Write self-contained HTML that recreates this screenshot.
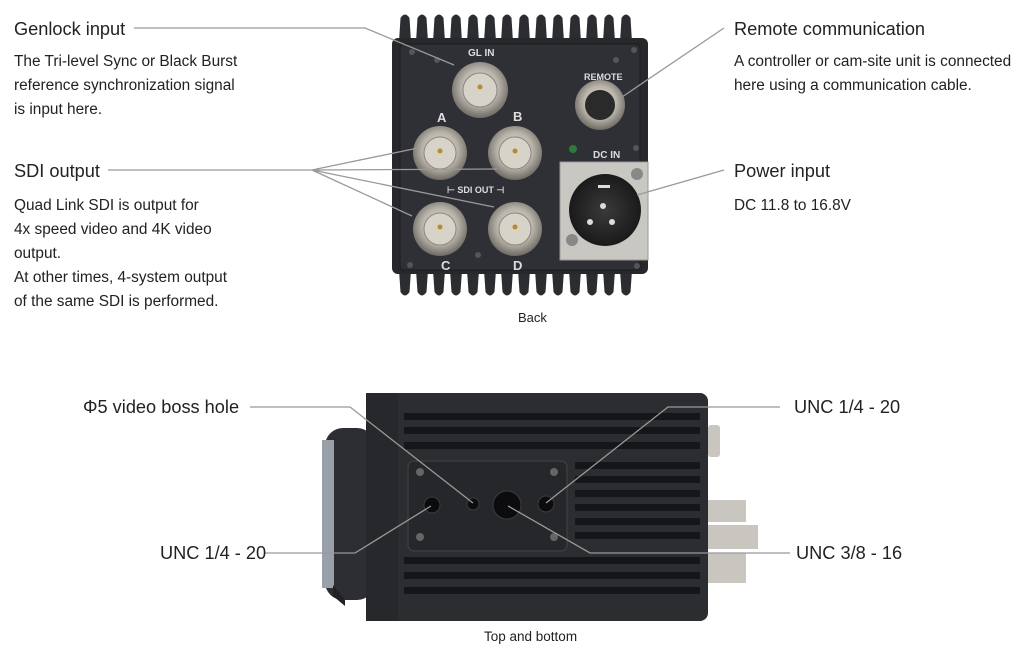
<!DOCTYPE html>
<html><head><meta charset="utf-8"><style>
body{margin:0;background:#fff}
svg{display:block}
text{font-family:"Liberation Sans",sans-serif;fill:#222}
.h{font-size:18.2px}
.b{font-size:15.4px}
.l{stroke:#999;stroke-width:1.3;fill:none}
</style></head><body>
<svg width="1024" height="659" viewBox="0 0 1024 659" xmlns="http://www.w3.org/2000/svg">
<defs>
<radialGradient id="bnc" cx="50%" cy="45%" r="55%"><stop offset="0" stop-color="#e8e4dc"/><stop offset=".6" stop-color="#b9b4aa"/><stop offset="1" stop-color="#6e6a64"/></radialGradient>
<radialGradient id="xlr" cx="50%" cy="50%" r="50%"><stop offset="0" stop-color="#3a3a3a"/><stop offset="1" stop-color="#1a1a1a"/></radialGradient>
<path id="ft" d="M0 42 L1.5 18 Q6 11 10.5 18 L12 42Z"/>
<path id="fb" d="M0 270 L1.5 292 Q6 299 10.5 292 L12 270Z"/>
</defs>
<!-- back camera fins -->
<g fill="#2b2d31">
<use href="#ft" x="399"/><use href="#ft" x="416"/><use href="#ft" x="433"/><use href="#ft" x="450"/><use href="#ft" x="467"/><use href="#ft" x="484"/><use href="#ft" x="501"/><use href="#ft" x="518"/><use href="#ft" x="535"/><use href="#ft" x="552"/><use href="#ft" x="569"/><use href="#ft" x="586"/><use href="#ft" x="603"/><use href="#ft" x="620"/>
<use href="#fb" x="399"/><use href="#fb" x="416"/><use href="#fb" x="433"/><use href="#fb" x="450"/><use href="#fb" x="467"/><use href="#fb" x="484"/><use href="#fb" x="501"/><use href="#fb" x="518"/><use href="#fb" x="535"/><use href="#fb" x="552"/><use href="#fb" x="569"/><use href="#fb" x="586"/><use href="#fb" x="603"/><use href="#fb" x="620"/>
</g>
<rect x="392" y="38" width="256" height="236" rx="6" fill="#26282c"/>
<rect x="400" y="44" width="240" height="226" rx="4" fill="#2e3035" stroke="#1b1c1f"/>
<g fill="#555"><circle cx="412" cy="52" r="3"/><circle cx="437" cy="60" r="3"/><circle cx="616" cy="60" r="3"/><circle cx="634" cy="50" r="3"/><circle cx="410" cy="265" r="3"/><circle cx="478" cy="255" r="3"/><circle cx="637" cy="266" r="3"/><circle cx="636" cy="148" r="3"/></g>
<g font-weight="bold">
<text x="468" y="56" style="fill:#ddd" font-size="10">GL IN</text>
<text x="584" y="80" style="fill:#ddd" font-size="9">REMOTE</text>
<text x="593" y="158" style="fill:#ddd" font-size="10">DC IN</text>
<text x="437" y="122" style="fill:#ddd" font-size="13">A</text>
<text x="513" y="121" style="fill:#ddd" font-size="13">B</text>
<text x="441" y="270" style="fill:#ddd" font-size="13">C</text>
<text x="513" y="270" style="fill:#ddd" font-size="13">D</text>
<text x="447" y="193" style="fill:#ddd" font-size="9">⊢ SDI OUT ⊣</text>
</g>
<g>
<circle cx="480" cy="90" r="28" fill="url(#bnc)"/><circle cx="480" cy="90" r="17" fill="#d8d3c9" stroke="#8a857d"/><circle cx="480" cy="87" r="2.5" fill="#b8892f"/>
<circle cx="440" cy="153" r="27" fill="url(#bnc)"/><circle cx="440" cy="153" r="16" fill="#d8d3c9" stroke="#8a857d"/><circle cx="440" cy="151" r="2.5" fill="#b8892f"/>
<circle cx="515" cy="153" r="27" fill="url(#bnc)"/><circle cx="515" cy="153" r="16" fill="#d8d3c9" stroke="#8a857d"/><circle cx="515" cy="151" r="2.5" fill="#b8892f"/>
<circle cx="440" cy="229" r="27" fill="url(#bnc)"/><circle cx="440" cy="229" r="16" fill="#d8d3c9" stroke="#8a857d"/><circle cx="440" cy="227" r="2.5" fill="#b8892f"/>
<circle cx="515" cy="229" r="27" fill="url(#bnc)"/><circle cx="515" cy="229" r="16" fill="#d8d3c9" stroke="#8a857d"/><circle cx="515" cy="227" r="2.5" fill="#b8892f"/>
<circle cx="600" cy="105" r="25" fill="url(#bnc)"/><circle cx="600" cy="105" r="15" fill="#2a2a2a"/>
<circle cx="573" cy="149" r="4" fill="#2f7a3a"/>
<rect x="560" y="162" width="88" height="98" fill="#c9c7c2" stroke="#999"/>
<circle cx="605" cy="210" r="36" fill="url(#xlr)"/>
<g fill="#ddd"><circle cx="590" cy="222" r="3"/><circle cx="612" cy="222" r="3"/><circle cx="603" cy="206" r="3"/><rect x="598" y="185" width="12" height="3"/></g>
<circle cx="637" cy="174" r="6" fill="#888"/><circle cx="572" cy="240" r="6" fill="#888"/>
</g>
<!-- bottom camera -->
<rect x="325" y="428" width="50" height="172" rx="18" fill="#2c2e33"/>
<rect x="322" y="440" width="12" height="148" fill="#9aa0aa"/>
<path d="M333 585 L345 600 L345 606 L333 596Z" fill="#222"/>
<rect x="366" y="393" width="342" height="228" rx="8" fill="#2b2d31"/>
<rect x="366" y="393" width="32" height="228" fill="#26282b"/>
<g fill="#15161a">
<rect x="404" y="413" width="296" height="7"/><rect x="404" y="427" width="296" height="7"/><rect x="404" y="442" width="296" height="7"/>
<rect x="575" y="462" width="125" height="7"/><rect x="575" y="476" width="125" height="7"/><rect x="575" y="490" width="125" height="7"/><rect x="575" y="504" width="125" height="7"/><rect x="575" y="518" width="125" height="7"/><rect x="575" y="532" width="125" height="7"/>
<rect x="404" y="557" width="296" height="7"/><rect x="404" y="572" width="296" height="7"/><rect x="404" y="587" width="296" height="7"/>
</g>
<rect x="408" y="461" width="159" height="90" rx="6" fill="#25272b" stroke="#444"/>
<g fill="#666"><circle cx="420" cy="472" r="4"/><circle cx="554" cy="472" r="4"/><circle cx="420" cy="537" r="4"/><circle cx="554" cy="537" r="4"/></g>
<g fill="#0c0c0e" stroke="#3a3c40"><circle cx="432" cy="505" r="8"/><circle cx="473" cy="504" r="6"/><circle cx="507" cy="505" r="14"/><circle cx="546" cy="504" r="8"/></g>
<g fill="#c9c6c0"><rect x="708" y="425" width="12" height="32" rx="3"/><rect x="708" y="500" width="38" height="22"/><rect x="708" y="525" width="50" height="24"/><rect x="708" y="553" width="38" height="30"/></g>
<!-- lines -->
<path class="l" d="M134 28 H365 L454 65"/>
<path class="l" d="M108 170 H312 L418 148 M312 170 L497 169 M312 170 L412 216 M312 170 L494 207"/>
<path class="l" d="M724 28 L622 97"/>
<path class="l" d="M724 170 L637 195"/>
<path class="l" d="M250 407 H350 L473 503"/>
<path class="l" d="M780 407 H668 L546 503"/>
<path class="l" d="M265 553 H355 L431 506"/>
<path class="l" d="M790 553 H590 L508 506"/>
<!-- texts -->
<text class="h" x="14" y="35">Genlock input</text>
<text class="b" x="14" y="66">The Tri-level Sync or Black Burst</text>
<text class="b" x="14" y="90">reference synchronization signal</text>
<text class="b" x="14" y="114">is input here.</text>
<text class="h" x="14" y="177">SDI output</text>
<text class="b" x="14" y="210">Quad Link SDI is output for</text>
<text class="b" x="14" y="234">4x speed video and 4K video</text>
<text class="b" x="14" y="258">output.</text>
<text class="b" x="14" y="282">At other times, 4-system output</text>
<text class="b" x="14" y="306">of the same SDI is performed.</text>
<text class="h" x="734" y="35">Remote communication</text>
<text class="b" x="734" y="66">A controller or cam-site unit is connected</text>
<text class="b" x="734" y="90">here using a communication cable.</text>
<text class="h" x="734" y="177">Power input</text>
<text class="b" x="734" y="210">DC 11.8 to 16.8V</text>
<text x="518" y="322" font-size="13">Back</text>
<text class="h" x="83" y="413">Φ5 video boss hole</text>
<text class="h" x="794" y="413">UNC 1/4 - 20</text>
<text class="h" x="160" y="559">UNC 1/4 - 20</text>
<text class="h" x="796" y="559">UNC 3/8 - 16</text>
<text x="484" y="641" font-size="13.5">Top and bottom</text>
</svg>
</body></html>
